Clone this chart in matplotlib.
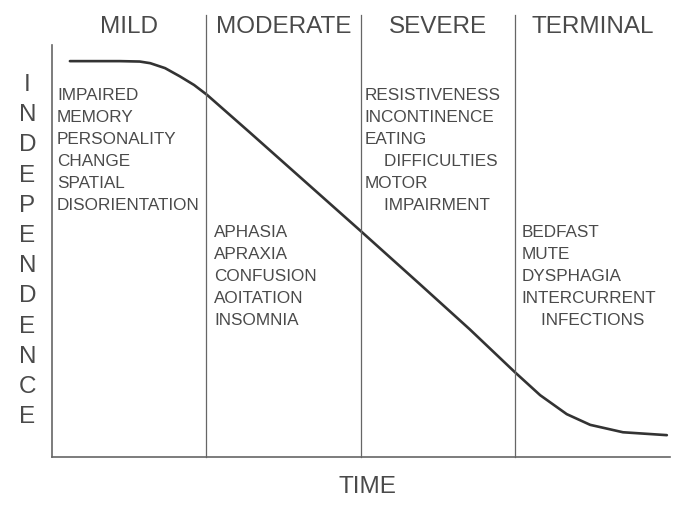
import matplotlib.pyplot as plt

# Stages of dementia - independence over time
stages = ['MILD', 'MODERATE', 'SEVERE', 'TERMINAL']
stage_edges = [0, 2.5, 5, 7.5, 10]

symptoms = [
    ['IMPAIRED', 'MEMORY', 'PERSONALITY', 'CHANGE', 'SPATIAL', 'DISORIENTATION'],
    ['APHASIA', 'APRAXIA', 'CONFUSION', 'AOITATION', 'INSOMNIA'],
    ['RESISTIVENESS', 'INCONTINENCE', 'EATING', '    DIFFICULTIES', 'MOTOR', '    IMPAIRMENT'],
    ['BEDFAST', 'MUTE', 'DYSPHAGIA', 'INTERCURRENT', '    INFECTIONS'],
]

# curve
time = [0.29, 1.10, 1.42, 1.59, 1.83, 2.07, 2.30, 2.51, 3.20, 4.01, 5.00, 5.95,
        6.76, 7.49, 7.90, 8.33, 8.71, 9.24, 9.95]
independence = [9.61, 9.61, 9.60, 9.56, 9.44, 9.24, 9.03, 8.79, 7.88, 6.80, 5.48, 4.20,
                3.10, 2.06, 1.50, 1.04, 0.78, 0.60, 0.53]

txt = '#4a4a4a'
plt.rcParams['font.family'] = ['Liberation Sans', 'DejaVu Sans']

fig = plt.figure(figsize=(6.85, 5.18), dpi=100)
ax = fig.add_axes([0.0759, 0.1178, 0.9021, 0.7952])
ax.set_xlim(0, 10)
ax.set_ylim(0, 10)

ax.plot(time, independence, color='#333333', lw=1.9, solid_capstyle='round',
        solid_joinstyle='round')

# stage dividers and headers
for x in stage_edges[1:-1]:
    ax.plot([x, x], [0, 10.73], color='#666666', lw=0.9, clip_on=False)
for i, name in enumerate(stages):
    mid = (stage_edges[i] + stage_edges[i + 1]) / 2
    ax.text(mid, 10.44, name, ha='center', va='center', fontsize=17.5, color=txt)

# symptom lists
text_x = [0.08, 2.62, 5.06, 7.60]
text_top = [8.78, 5.45, 8.78, 5.45]
for i, lines in enumerate(symptoms):
    for j, line in enumerate(lines):
        ax.text(text_x[i], text_top[i] - j * 0.535, line, ha='left', va='center',
                fontsize=12.3, color=txt)

# stacked y label
ylabel = 'INDEPENDENCE'
for k, ch in enumerate(ylabel):
    ax.text(-0.40, (457 - 85) / 41.2 - k * 0.733, ch, ha='center', va='center',
            fontsize=17.5, color=txt, clip_on=False)

ax.text(5.1, -0.73, 'TIME', ha='center', va='center', fontsize=17.5, color=txt)

for side in ['top', 'right']:
    ax.spines[side].set_visible(False)
for side in ['left', 'bottom']:
    ax.spines[side].set_color('#666666')
    ax.spines[side].set_linewidth(1.2)
ax.set_xticks([])
ax.set_yticks([])

fig.savefig('out.png', dpi=100)
